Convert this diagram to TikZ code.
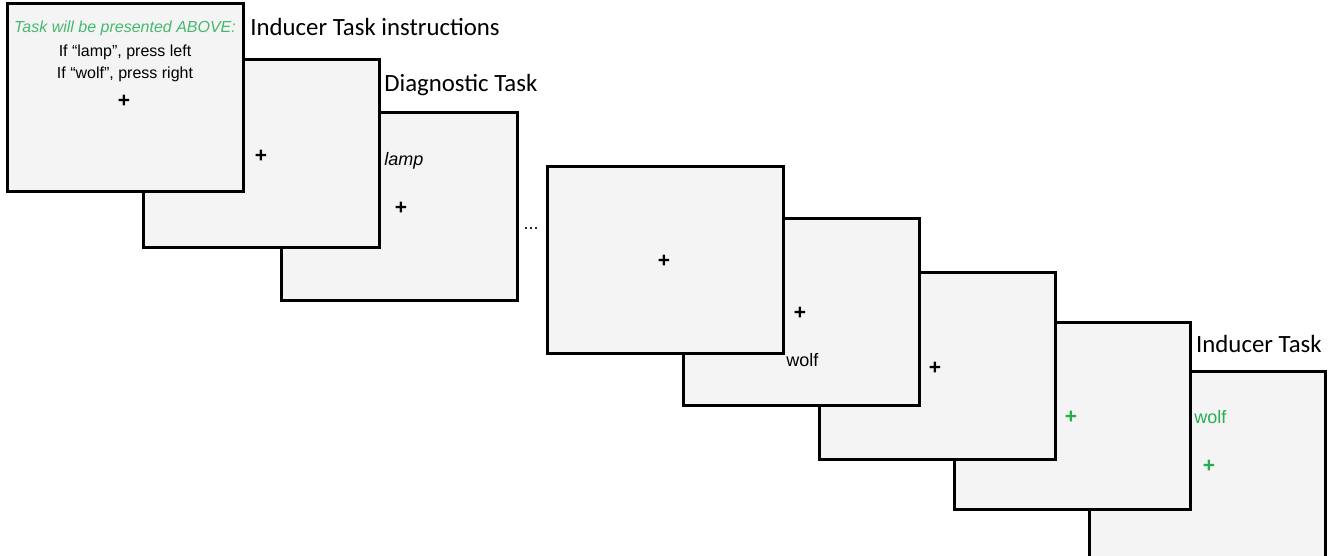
\documentclass[tikz,border=0pt]{standalone}
\usepackage{fontspec}
\setmainfont{Liberation Sans}
\newfontfamily\calib{Carlito}
\definecolor{boxfill}{RGB}{244,244,244}
\definecolor{hdrgreen}{RGB}{70,185,110}
\definecolor{cuegreen}{RGB}{40,172,80}
\begin{document}
\begin{tikzpicture}[x=0.5pt,y=-0.5pt,
  screen/.style={draw=black, fill=boxfill, line width=1.5pt, minimum width=118pt, minimum height=93.5pt, inner sep=0pt, outer sep=0pt, anchor=north west},
  fix/.style={font=\fontsize{10.5}{10.5}\selectfont\bfseries, inner sep=0pt, anchor=center},
  word/.style={font=\fontsize{9}{9}\selectfont, inner sep=0pt, anchor=base west},
  instr/.style={font=\fontsize{8}{8}\selectfont, inner sep=0pt, anchor=base},
  title/.style={font=\calib\fontsize{12.4}{12.4}\selectfont, inner sep=0pt}]
\useasboundingbox (0,0) rectangle (1332,556);
\clip (0,0) rectangle (1332,556);
\fill[white] (0,0) rectangle (1332,556);
% screen 8
\node[screen] (s8) at (1089,371) {};
\node[word, text=cuegreen] (w8) at (1194,423.5) {wolf};
\node[fix, text=cuegreen] (p8) at (1209,466) {+};
% screen 7
\node[screen] (s7) at (954,322) {};
\node[fix, text=cuegreen] (p7) at (1071,417) {+};
% screen 6
\node[screen] (s6) at (819,272) {};
\node[fix] (p6) at (935,368) {+};
% screen 5
\node[screen] (s5) at (683,218) {};
\node[fix] (p5) at (800,313) {+};
\node[word] (w5) at (786,366.5) {wolf};
% screen 4
\node[screen] (s4) at (547,166) {};
\node[fix] (p4) at (664,261) {+};
% ellipsis
\node[font=\fontsize{9}{9}\selectfont, inner sep=0pt] (dots) at (531,229) {...};
% screen 3
\node[screen] (s3) at (281,113) {};
\node[word, font=\fontsize{9}{9}\selectfont\itshape] (w3) at (384,165.5) {lamp};
\node[fix] (p3) at (401,208) {+};
% screen 2
\node[screen] (s2) at (143,60) {};
\node[fix] (p2) at (261,156) {+};
% screen 1
\node[screen] (s1) at (7,4) {};
\node[instr, text=hdrgreen, font=\fontsize{8}{8}\selectfont\itshape] (i1) at (125,32.5) {Task will be presented ABOVE:};
\node[instr] (i2) at (125,56.5) {If “lamp”, press left};
\node[instr] (i3) at (125,78.5) {If “wolf”, press right};
\node[fix] (p1) at (124,101) {+};
% titles
\node[title, anchor=base west] (t1) at (250,36) {Inducer Task instructions};
\node[title, anchor=base west] (t2) at (384,91) {Diagnostic Task};
\node[title, anchor=base east] (t3) at (1322,352) {Inducer Task};
\end{tikzpicture}
\end{document}
